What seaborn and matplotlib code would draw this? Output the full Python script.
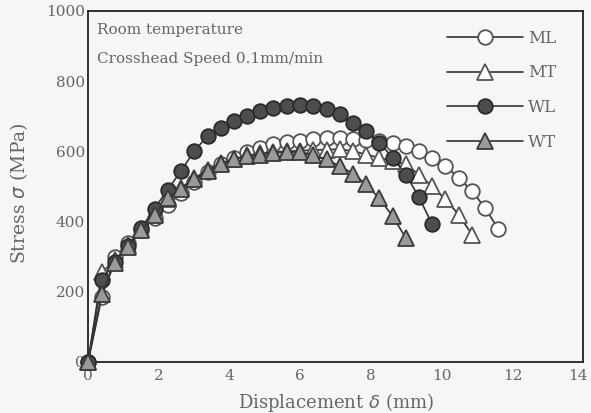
import matplotlib
matplotlib.use("Agg")
import matplotlib.pyplot as plt
import matplotlib.transforms as mtransforms
import seaborn as sns
import pandas as pd
from matplotlib.ticker import MultipleLocator

# ---- data ----
disp = [0, 0.39, 0.76, 1.13, 1.51, 1.88, 2.25, 2.63, 3.00, 3.38, 3.75, 4.12,
        4.50, 4.87, 5.24, 5.62, 5.99, 6.36, 6.74, 7.11, 7.49, 7.86, 8.23, 8.61,
        8.98, 9.35, 9.72, 10.10, 10.47, 10.85, 11.22, 11.59]

ml = [0, 185, 298, 338, 375, 410, 447, 481, 512, 540, 563, 582, 598, 610, 620,
      626, 630, 634, 637, 637, 636, 633, 630, 625, 615, 601, 582, 558, 525, 487,
      439, 379]
mt = [0, 255, 290, 332, 378, 422, 465, 497, 523, 548, 566, 579, 589, 594, 598,
      600, 602, 604, 605, 606, 601, 591, 582, 573, 563, 534, 501, 463, 420, 363]
wl = [0, 234, 285, 330, 383, 437, 491, 544, 601, 644, 668, 687, 701, 715, 725,
      729, 731, 729, 722, 706, 682, 658, 625, 582, 534, 470, 393]
wt = [0, 193, 283, 329, 377, 420, 467, 494, 520, 544, 563, 577, 587, 591, 596,
      598, 598, 590, 577, 558, 537, 506, 466, 415, 353]

series_names = ["ML", "MT", "WL", "WT"]
series_vals = [ml, mt, wl, wt]
x_ticks = [0, 2, 4, 6, 8, 10, 12, 14]
y_ticks = [0, 200, 400, 600, 800, 1000]
note_lines = ["Room temperature", "Crosshead Speed 0.1mm/min"]

frames = []
for name, vals in zip(series_names, series_vals):
    frames.append(pd.DataFrame({"disp": disp[:len(vals)], "stress": vals, "spec": name}))
df = pd.concat(frames, ignore_index=True)

# ---- styling ----
sns.set_theme(style="white")
plt.rcParams["font.family"] = ["DejaVu Serif"]

styles = {
    "ML": dict(marker="o", mfc="white", mec="#555555"),
    "MT": dict(marker="^", mfc="white", mec="#555555"),
    "WL": dict(marker="o", mfc="#4d4d4d", mec="#2a2a2a"),
    "WT": dict(marker="^", mfc="#9a9a9a", mec="#3a3a3a"),
}

fig = plt.figure(figsize=(5.91, 4.13), dpi=100)
fig.patch.set_facecolor("#f6f6f4")
ax = fig.add_axes([0.1489, 0.1235, 0.8384, 0.8499])
ax.set_facecolor("#f6f6f4")

for name in series_names:
    sub = df[df["spec"] == name]
    st = styles[name]
    sns.lineplot(data=sub, x="disp", y="stress", ax=ax, estimator=None, sort=False,
                 color="#333333", linewidth=1.2, marker=st["marker"],
                 markersize=10.5 if st["marker"] == "o" else 11,
                 markerfacecolor=st["mfc"], markeredgecolor=st["mec"],
                 markeredgewidth=1.3, label=name, clip_on=False, zorder=3)

ax.set_xlim(0, 14)
ax.set_ylim(0, 1000)
ax.set_xticks(x_ticks)
ax.set_yticks(y_ticks)
ax.xaxis.set_minor_locator(MultipleLocator(1))
ax.yaxis.set_minor_locator(MultipleLocator(100))
ax.tick_params(which="major", direction="in", length=5, width=1, colors="#222222",
               labelcolor="#666666", labelsize=11, pad=2)
ax.tick_params(which="minor", direction="in", length=3, width=1, colors="#222222")
ax.tick_params(axis="x", pad=5)
for sp in ax.spines.values():
    sp.set_color("#222222")
    sp.set_linewidth(1.3)

# shift the last x tick label slightly left so it stays inside the figure
lbls = ax.get_xticklabels()
lbls[-1].set_transform(lbls[-1].get_transform() +
                       mtransforms.ScaledTranslation(-6 / 100, 0, fig.dpi_scale_trans))

ax.set_xlabel("Displacement $\\delta$ (mm)", fontsize=13, color="#666666", labelpad=6)
ax.set_ylabel("Stress $\\sigma$ (MPa)", fontsize=13.5, color="#666666")
ax.yaxis.set_label_coords(-0.117, 0.48)

ax.text(0.018, 0.946, note_lines[0], transform=ax.transAxes, fontsize=11,
        color="#666666", va="center", ha="left")
ax.text(0.018, 0.863, note_lines[1], transform=ax.transAxes, fontsize=11,
        color="#666666", va="center", ha="left")

leg = ax.legend(loc="upper left", bbox_to_anchor=(0.724, 0.947), frameon=False,
                fontsize=12, handlelength=4.6, labelspacing=1.07, handletextpad=0.3,
                borderaxespad=0, borderpad=0)
for t in leg.get_texts():
    t.set_color("#666666")

fig.savefig("out.png", dpi=100, facecolor=fig.get_facecolor())
